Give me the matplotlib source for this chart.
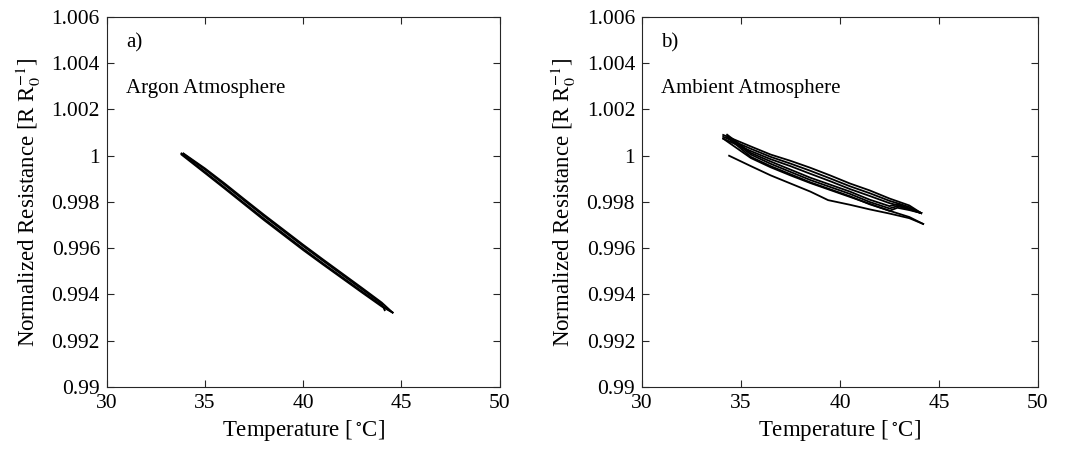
import matplotlib
matplotlib.use("Agg")
import matplotlib.pyplot as plt

plt.rcParams['font.family'] = ['Liberation Serif', 'DejaVu Serif']
plt.rcParams['mathtext.fontset'] = 'stix'

# ---- data ----
x_ticks = [30, 35, 40, 45, 50]
y_ticks = [0.99, 0.992, 0.994, 0.996, 0.998, 1.0, 1.002, 1.004, 1.006]
y_tick_labels = ['0.99', '0.992', '0.994', '0.996', '0.998', '1', '1.002', '1.004', '1.006']

# Argon atmosphere: heating / cooling branches of repeated cycles
argon_T_heat = [33.8, 35, 36, 37, 38, 39, 40, 41, 42, 43, 44, 44.55]
argon_R_heat1 = [1.00010, 0.99930, 0.99863, 0.99795, 0.99728, 0.99663, 0.99598, 0.99535, 0.99474, 0.99413, 0.99353, 0.99322]
argon_R_heat2 = [1.00005, 0.99925, 0.99858, 0.99790, 0.99722, 0.99657, 0.99592, 0.99530, 0.99469, 0.99408, 0.99348, 0.99322]
argon_T_cool = [44.55, 44, 43, 42, 41, 40, 39, 38, 37, 36, 35, 33.9]
argon_R_cool1 = [0.99322, 0.99365, 0.99428, 0.99490, 0.99552, 0.99615, 0.99680, 0.99745, 0.99812, 0.99880, 0.99945, 1.00010]
argon_T_cool2 = [44.15, 44, 43, 42, 41, 40, 39, 38, 37, 36, 35, 33.9]
argon_R_cool2 = [0.99332, 0.99360, 0.99422, 0.99484, 0.99546, 0.99609, 0.99674, 0.99739, 0.99806, 0.99874, 0.99940, 1.00008]

# Ambient atmosphere
amb_T_heat1 = [34.4, 35.5, 36.5, 37.5, 38.5, 39.4, 40.5, 41.5, 42.5, 43.5, 44.2]
amb_R_heat1 = [1.00000, 0.99955, 0.99915, 0.99880, 0.99845, 0.99808, 0.99788, 0.99768, 0.99750, 0.99730, 0.99705]
amb_T_cool1 = [44.2, 43.5, 42.5, 41.5, 40.5, 39.5, 38.5, 37.5, 36.5, 35.5, 34.1]
amb_R_cool1 = [0.99705, 0.99735, 0.99762, 0.99792, 0.99822, 0.99852, 0.99882, 0.99915, 0.99950, 0.99990, 1.00074]

amb_T_heat = [34.1, 35.5, 36.5, 37.5, 38.5, 39.5, 40.5, 41.5, 42.5, 43.0, 43.5, 44.1]
amb_R_heat2 = [1.00074, 1.00020, 0.99985, 0.99955, 0.99922, 0.99890, 0.99856, 0.99826, 0.99795, 0.99784, 0.99770, 0.99752]
amb_R_heat3 = [1.00082, 1.00030, 0.99995, 0.99966, 0.99935, 0.99902, 0.99868, 0.99838, 0.99805, 0.99792, 0.99778, 0.99752]
amb_R_heat4 = [1.00090, 1.00040, 1.00005, 0.99978, 0.99948, 0.99915, 0.99880, 0.99850, 0.99815, 0.99800, 0.99785, 0.99752]
amb_T_cool = [44.1, 43.5, 42.9, 42.5, 41.5, 40.5, 39.5, 38.5, 37.5, 36.5, 35.5, 34.3]
amb_R_cool2 = [0.99752, 0.99765, 0.99775, 0.99762, 0.99790, 0.99825, 0.99855, 0.99885, 0.99920, 0.99955, 0.99995, 1.00080]
amb_R_cool3 = [0.99752, 0.99768, 0.99782, 0.99772, 0.99800, 0.99835, 0.99865, 0.99895, 0.99930, 0.99965, 1.00005, 1.00085]
amb_R_cool4 = [0.99752, 0.99772, 0.99790, 0.99782, 0.99810, 0.99845, 0.99875, 0.99905, 0.99940, 0.99975, 1.00012, 1.00091]

fig = plt.figure(figsize=(10.79, 4.54), dpi=100)
axL = fig.add_axes([0.099, 0.1476, 0.364, 0.815])
axR = fig.add_axes([0.595, 0.1476, 0.367, 0.815])

lw = 1.3
axL.plot(argon_T_heat, argon_R_heat1, color='black', lw=lw)
axL.plot(argon_T_cool, argon_R_cool1, color='black', lw=lw)
axL.plot(argon_T_heat, argon_R_heat2, color='black', lw=lw)
axL.plot(argon_T_cool2, argon_R_cool2, color='black', lw=lw)

axR.plot(amb_T_heat1, amb_R_heat1, color='black', lw=lw)
axR.plot(amb_T_cool1, amb_R_cool1, color='black', lw=lw)
for rh, rc in [(amb_R_heat2, amb_R_cool2), (amb_R_heat3, amb_R_cool3), (amb_R_heat4, amb_R_cool4)]:
    axR.plot(amb_T_heat, rh, color='black', lw=lw)
    axR.plot(amb_T_cool, rc, color='black', lw=lw)

for ax, tag, label in [(axL, 'a)', 'Argon Atmosphere'), (axR, 'b)', 'Ambient Atmosphere')]:
    ax.set_xlim(30, 50)
    ax.set_ylim(0.99, 1.006)
    ax.set_xticks(x_ticks)
    ax.set_xticklabels([str(t) for t in x_ticks])
    ax.set_yticks(y_ticks)
    ax.set_yticklabels(y_tick_labels)
    ax.tick_params(direction='in', top=True, right=True, length=5, width=0.8,
                   labelsize=15.5, colors='#262626', labelcolor='black', pad=5)
    for s in ax.spines.values():
        s.set_linewidth(0.8)
        s.set_color('#262626')
    ax.set_xlabel('Temperature [$\\,^{\\circ}$C]', fontsize=16.5, labelpad=4)
    ax.set_ylabel('Normalized Resistance [R R$_0^{-1}$]', fontsize=16.5, labelpad=6)
    ax.text(30.97, 1.0049, tag, fontsize=15, va='center', ha='left')
    ax.text(30.97, 1.0029, label, fontsize=15, va='center', ha='left')

fig.savefig('out.png', dpi=100)
